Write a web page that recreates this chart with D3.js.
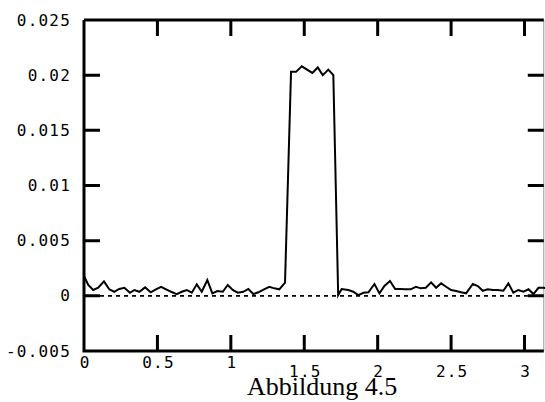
<!DOCTYPE html>
<html>
<head>
<meta charset="utf-8">
<script src="https://cdn.jsdelivr.net/npm/d3@7"></script>
<style>
  html, body { margin: 0; padding: 0; background: #fff; }
</style>
</head>
<body>
<div id="container"></div>
<script>
// values
let xs = [0, 0.029, 0.063, 0.097, 0.136, 0.172, 0.206, 0.240, 0.275, 0.313,
          0.343, 0.377, 0.416, 0.454, 0.490, 0.525, 0.559, 0.593, 0.631, 0.666,
          0.700, 0.734, 0.768, 0.802, 0.840, 0.874, 0.908, 0.945, 0.979, 1.013,
          1.047, 1.085, 1.119, 1.153, 1.187, 1.226, 1.262, 1.296, 1.330, 1.369,
          1.410, 1.444, 1.483, 1.555, 1.592, 1.626, 1.664, 1.698, 1.731, 1.755,
          1.800, 1.834, 1.868, 1.903, 1.937, 1.978, 2.012, 2.046, 2.084, 2.119,
          2.153, 2.187, 2.225, 2.260, 2.294, 2.328, 2.364, 2.398, 2.432, 2.466,
          2.500, 2.534, 2.568, 2.602, 2.648, 2.682, 2.716, 2.750, 2.784, 2.818,
          2.856, 2.890, 2.924, 2.958, 2.993, 3.027, 3.061, 3.095, 3.129, 3.1416];

let ys = [0.0018, 0.00098, 0.00053, 0.00073, 0.00131, 0.00059, 0.00037, 0.00062, 0.00073, 0.00028,
          0.00053, 0.00037, 0.00077, 0.00032, 0.00059, 0.00082, 0.00059, 0.00037, 0.00016, 0.00037,
          0.00053, 0.00028, 0.00104, 0.00037, 0.00143, 0.00023, 0.00044, 0.00037, 0.00098, 0.00053,
          0.00028, 0.00037, 0.00062, 0.00016, 0.00032, 0.00059, 0.00082, 0.00068, 0.00059, 0.00119,
          0.0203, 0.0203, 0.0208, 0.0202, 0.0207, 0.0200, 0.0205, 0.0200, 0.00007, 0.00062,
          0.00053, 0.00037, 0.00007, 0.00028, 0.00032, 0.00107, 0.00023, 0.00089, 0.00134, 0.00062,
          0.00062, 0.00059, 0.00059, 0.00082, 0.00068, 0.00073, 0.00122, 0.00073, 0.00113, 0.00082,
          0.00053, 0.00044, 0.00032, 0.00023, 0.00107, 0.00089, 0.00046, 0.00059, 0.00053, 0.00053,
          0.00046, 0.00113, 0.00028, 0.00053, 0.00037, 0.00059, 0.00016, 0.00073, 0.00073, 0.0007];

let xTicks = [0, 0.5, 1, 1.5, 2, 2.5, 3];
let xTickLabels = ['0', '0.5', '1', '1.5', '2', '2.5', '3'];
let yTicks = [-0.005, 0, 0.005, 0.01, 0.015, 0.02, 0.025];
let yTickLabels = ['-0.005', '0', '0.005', '0.01', '0.015', '0.02', '0.025'];
let caption = 'Abbildung 4.5';

let w = 545,
    h = 402;

let viz = d3.select('#container')
    .append('svg')
      .attr('width', w)
      .attr('height', h)
      .style('display', 'block')
      .style('background', '#fff');

let x = d3.scaleLinear().domain([0, Math.PI]).range([84, 545.3]);
let y = d3.scaleLinear().domain([-0.005, 0.025]).range([351, 20]);

let monoFont = 'DejaVu Sans Mono';
let tickLen = 16;
let xIn = xTicks.filter(d => d > 0);
let yIn = yTicks.filter(d => d > -0.005 && d < 0.025);
let rightX = x(Math.PI) - 1.5;

// frame: one path for the border plus every inward tick
let frame = d3.path();
frame.moveTo(x(0), y(0.025));
frame.lineTo(rightX, y(0.025));
frame.moveTo(x(0), y(0.025));
frame.lineTo(x(0), y(-0.005));
frame.lineTo(rightX, y(-0.005));
xIn.forEach(d => {
    frame.moveTo(x(d), y(-0.005));
    frame.lineTo(x(d), y(-0.005) - tickLen);
    frame.moveTo(x(d), y(0.025));
    frame.lineTo(x(d), y(0.025) + tickLen);
});
yIn.forEach(d => {
    frame.moveTo(x(0), y(d));
    frame.lineTo(x(0) + tickLen, y(d));
    frame.moveTo(rightX, y(d));
    frame.lineTo(rightX - tickLen, y(d));
});

// dashed zero line
viz.append('line')
    .attr('x1', x(0) + tickLen)
    .attr('x2', rightX - tickLen)
    .attr('y1', y(0))
    .attr('y2', y(0))
    .attr('stroke', '#000')
    .attr('stroke-width', 1.6)
    .attr('stroke-dasharray', '4,4');

// right edge (faint in the scan)
viz.append('line')
    .attr('x1', rightX).attr('x2', rightX)
    .attr('y1', y(0.025)).attr('y2', y(-0.005))
    .attr('stroke', '#999')
    .attr('stroke-width', 1);

viz.append('path')
    .attr('d', frame.toString())
    .attr('fill', 'none')
    .attr('stroke', '#000')
    .attr('stroke-width', 3);

// tick labels via d3 axes (lines hidden, frame path above draws them)
let axBottom = viz.append('g')
    .attr('transform', 'translate(0,' + y(-0.005) + ')')
    .call(d3.axisBottom(x).tickValues(xTicks).tickSize(0).tickPadding(6)
        .tickFormat((d, i) => xTickLabels[i]));
axBottom.select('.domain').remove();
axBottom.selectAll('.tick text')
    .attr('font-family', monoFont)
    .attr('font-size', 16)
    .attr('letter-spacing', 1.2)
    .attr('dx', 0.6)
    .attr('fill', '#000')
    .attr('dy', null)
    .attr('y', d => d < 1.25 ? 17 : 26);

let axLeft = viz.append('g')
    .attr('transform', 'translate(' + x(0) + ',0)')
    .call(d3.axisLeft(y).tickValues(yTicks).tickSize(0).tickPadding(13)
        .tickFormat((d, i) => yTickLabels[i]));
axLeft.select('.domain').remove();
axLeft.selectAll('.tick text')
    .attr('font-family', monoFont)
    .attr('font-size', 16)
    .attr('letter-spacing', 1.2)
    .attr('fill', '#000');

// signal
let line = d3.line()
    .x((d, i) => x(xs[i]))
    .y(d => y(d));

viz.append('path')
    .datum(ys)
    .attr('d', line)
    .attr('fill', 'none')
    .attr('stroke', '#000')
    .attr('stroke-width', 2)
    .attr('stroke-linejoin', 'miter');

// caption
viz.append('text')
    .attr('x', 247)
    .attr('y', 395)
    .attr('font-family', 'Liberation Serif')
    .attr('font-size', 26)
    .attr('fill', '#000')
    .text(caption);
</script>
</body>
</html>
